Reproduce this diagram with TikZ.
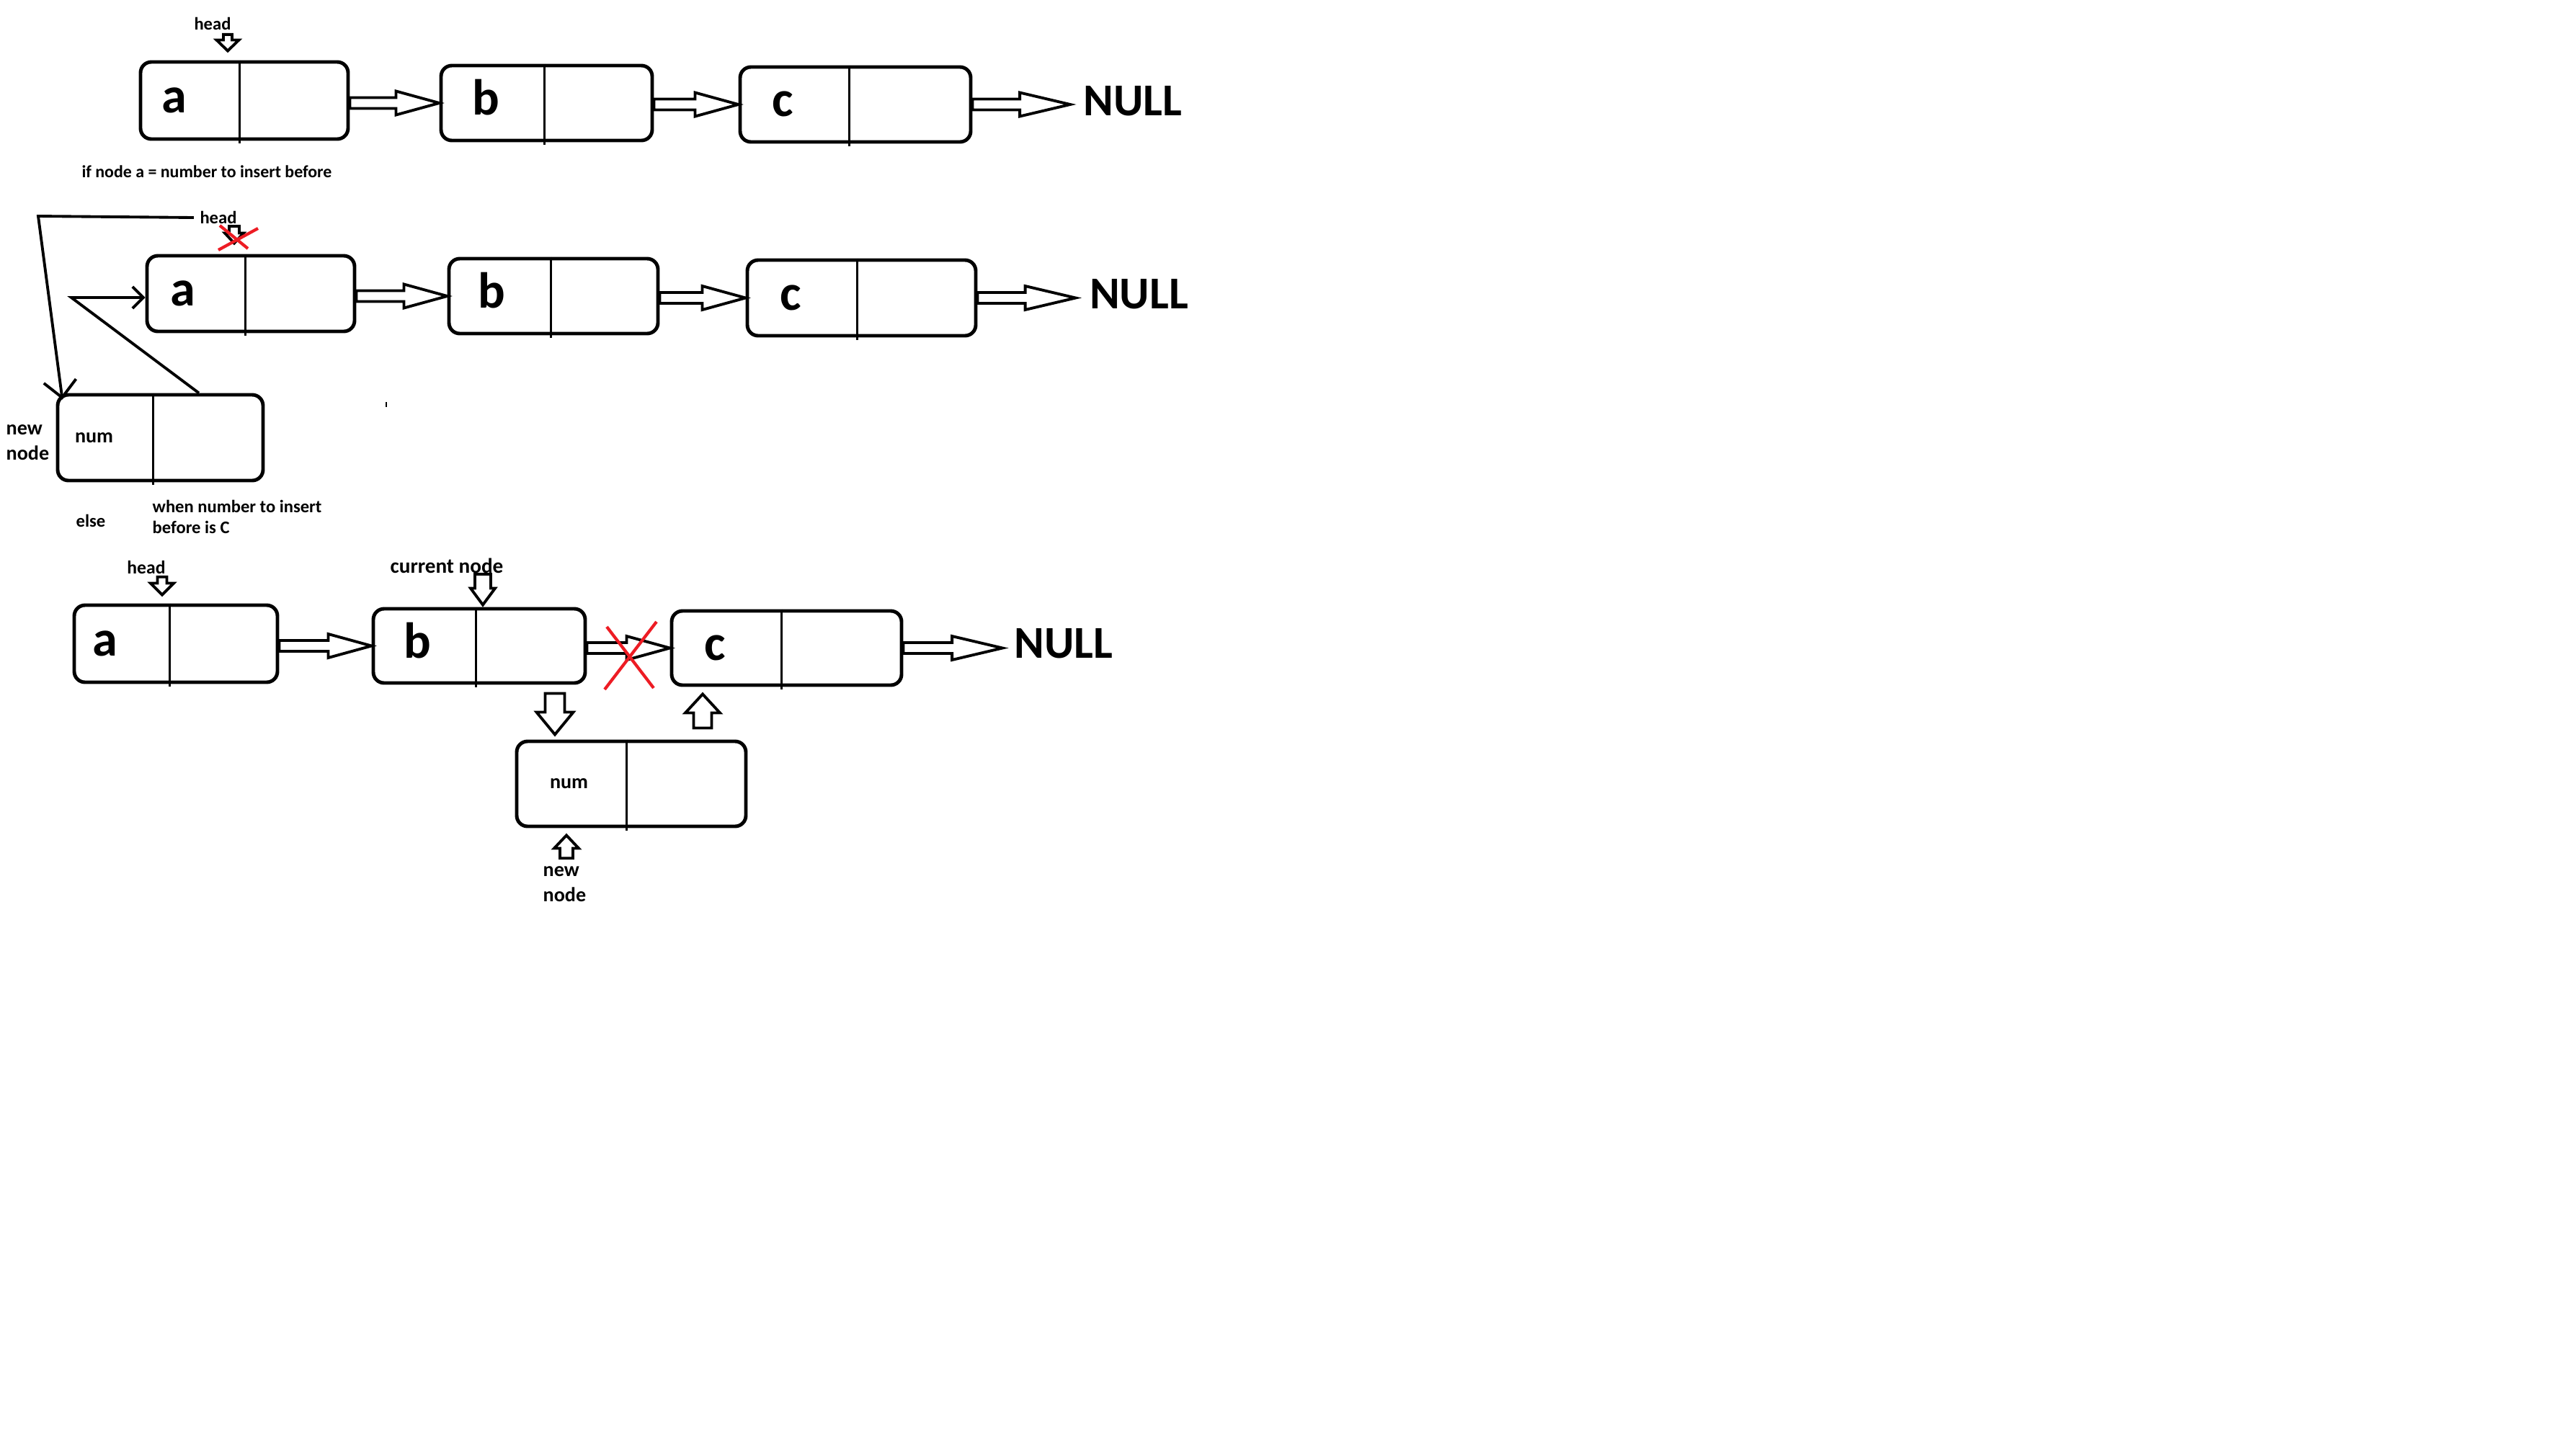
\documentclass[tikz,border=0pt]{standalone}
\usepackage{fontspec}
\setmainfont{Carlito}
\usetikzlibrary{calc, arrows.meta}

\definecolor{paintred}{RGB}{237,28,36}

% one list cell: name, x, y, width, height, divider offset, label offset, label, label style
\newcommand{\listcell}[9]{%
  \node[cell, minimum width=#4cm, minimum height=#5cm] (#1) at (#2,#3) {};
  \draw[divider] ([xshift=#6cm]#1.north west) -- ([xshift=#6cm, yshift=-0.04cm]#1.south west);
  \node[#9] (#1val) at ([xshift=#7cm]#1.west) {#8};
}

\begin{document}
\begin{tikzpicture}

\tikzset{cell/.style = {draw, rounded corners=0.15cm, line width=1.4pt}}
\tikzset{divider/.style = {line width=1.1pt}}
\tikzset{valbig/.style = {inner sep=0pt, anchor=base, yshift=-4.7pt, font=\bfseries\fontsize{20}{24}\selectfont}}
\tikzset{valsmall/.style = {inner sep=0pt, anchor=base, yshift=-1.9pt, font=\bfseries\fontsize{8}{10}\selectfont}}
\tikzset{side/.style = {inner sep=0pt, align=left, anchor=west, font=\bfseries\fontsize{8}{10}\selectfont}}
\tikzset{note/.style = {inner sep=0pt, font=\bfseries\fontsize{7}{8.3}\selectfont}}
\tikzset{nul/.style = {inner sep=0pt, font=\bfseries\fontsize{18}{22}\selectfont}}
\tikzset{wire/.style = {line width=1.1pt}}
\tikzset{cross/.style = {draw=paintred, line width=1.2pt}}
\tikzset{fat/.style n args = {5}{draw, line width=1.1pt, line join=miter, to path={
  ($(\tikztostart)!#4!(\tikztotarget)$) coordinate (fs)
  ($(\tikztotarget)!#5!(\tikztostart)$) coordinate (ft)
  ($(ft)!#3!(fs)$) coordinate (fh)
  ($(fs)!#1!90:(ft)$) -- ($(fh)!#1!90:(ft)$) -- ($(fh)!#2!90:(ft)$) -- (ft)
  -- ($(fh)!#2!-90:(ft)$) -- ($(fh)!#1!-90:(ft)$) -- ($(fs)!#1!-90:(ft)$) -- cycle}}}
\tikzset{link/.style = {fat={0.075cm}{0.165cm}{0.6cm}{0cm}{0cm}}}
\tikzset{nulllink/.style = {fat={0.075cm}{0.165cm}{0.7cm}{0cm}{#1}}}

\useasboundingbox (0,0) rectangle (35.44,-20.20);

%row 1
\listcell{a1}{3.39}{-1.395}{2.88}{1.07}{1.40}{0.49}{a}{valbig}
\listcell{b1}{7.585}{-1.43}{2.93}{1.04}{1.46}{0.65}{b}{valbig}
\listcell{c1}{11.87}{-1.45}{3.20}{1.04}{1.54}{0.62}{c}{valbig}
\node[nul] (null1) at (15.72,-1.40) {NULL};
\node[note] (head1) at (2.95,-0.33) {head};
\node[note, font=\bfseries\fontsize{6.8}{8}\selectfont] (if1) at (2.87,-2.38) {if node a = number to insert before};
\coordinate (pin1) at (3.16,0);

\draw[link] (a1.east |- b1.west) to (b1.west);
\draw[link] (b1.east |- c1.west) to (c1.west);
\draw[nulllink=0.18cm] (c1.east) to (c1.east -| null1.west);
\draw[fat={0.06cm}{0.155cm}{0.15cm}{0.055cm}{0.13cm}] (head1.south -| pin1) to (a1.north -| pin1);

%row 2
\listcell{a2}{3.48}{-4.075}{2.88}{1.05}{1.39}{0.52}{a}{valbig}
\listcell{b2}{7.68}{-4.11}{2.90}{1.04}{1.44}{0.62}{b}{valbig}
\listcell{c2}{11.955}{-4.135}{3.17}{1.05}{1.55}{0.63}{c}{valbig}
\listcell{n2}{2.225}{-6.075}{2.85}{1.19}{1.35}{0.53}{num}{valsmall}
\node[nul] (null2) at (15.805,-4.08) {NULL};
\node[note] (head2) at (3.03,-3.02) {head};
\node[side] (new2) at (0.08,-6.145) {new\\node};
\node[note] (else2) at (1.26,-7.23) {else};
\node[note, align=left, anchor=west] (when2) at (2.11,-7.175) {when number to insert\\before is C};
\coordinate (pin2) at (3.25,0);
\coordinate (bend1) at (0.53,-3.00);
\coordinate (bend2) at (0.99,-4.13);

\draw[link] (a2.east |- b2.west) to (b2.west);
\draw[link] (b2.east |- c2.west) to (c2.west);
\draw[nulllink=0.19cm] (c2.east) to (c2.east -| null2.west);
\draw[fat={0.07cm}{0.13cm}{0.14cm}{0.025cm}{0.15cm}] (head2.south -| pin2) to (a2.north -| pin2);
\draw[wire, -{Straight Barb[length=0.23cm, width=0.45cm]}] ([xshift=-0.08cm]head2.west) -- (bend1) -- ([shift={(0.09,-0.09)}]n2.north west);
\draw[wire, -{Straight Barb[length=0.15cm, width=0.3cm]}] ([xshift=0.535cm]n2.north) -- (bend2) -- (bend2 -| a2.west);
\draw[cross] (3.03,-3.47) -- (3.58,-3.17);
\draw[cross] (3.05,-3.13) -- (3.44,-3.45);
\draw[line width=0.8pt] (5.36,-5.58) -- (5.36,-5.65);

%row 3
\listcell{a3}{2.44}{-8.935}{2.82}{1.07}{1.35}{0.45}{a}{valbig}
\listcell{b3}{6.65}{-8.965}{2.94}{1.03}{1.45}{0.64}{b}{valbig}
\listcell{c3}{10.915}{-8.995}{3.19}{1.03}{1.55}{0.63}{c}{valbig}
\listcell{n3}{8.76}{-10.88}{3.18}{1.18}{1.55}{0.75}{num}{valsmall}
\node[nul] (null3) at (14.76,-8.93) {NULL};
\node[note, font=\bfseries\fontsize{7.3}{9}\selectfont] (head3) at (2.03,-7.88) {head};
\node[note, font=\bfseries\fontsize{8.3}{10}\selectfont] (cur3) at (6.20,-7.85) {current node};
\node[side] (new3) at (7.53,-12.275) {new\\node};
\coordinate (pin3) at (2.25,0);
\coordinate (pin4) at (6.70,0);
\coordinate (pin5) at (7.70,0);
\coordinate (pin6) at (9.75,0);
\coordinate (pin7) at (7.86,0);

\draw[link] (a3.east |- b3.west) to (b3.west);
\draw[link] (b3.east |- c3.west) to (c3.west);
\draw[nulllink=0.16cm] (c3.east) to (c3.east -| null3.west);
\draw[fat={0.065cm}{0.16cm}{0.16cm}{0.03cm}{0.12cm}] (head3.south -| pin3) to (a3.north -| pin3);
\draw[fat={0.11cm}{0.17cm}{0.23cm}{0.01cm}{0.03cm}] (cur3.south -| pin4) to (b3.north -| pin4);
\draw[fat={0.135cm}{0.255cm}{0.31cm}{0.12cm}{0.07cm}] (b3.south -| pin5) to (n3.north -| pin5);
\draw[fat={0.125cm}{0.24cm}{0.26cm}{0.16cm}{0.10cm}] (n3.north -| pin6) to (c3.south -| pin6);
\draw[fat={0.09cm}{0.17cm}{0.18cm}{0.11cm}{0.10cm}] (new3.north -| pin7) to (n3.south -| pin7);
\draw[cross] (8.42,-8.70) -- (9.07,-9.55);
\draw[cross] (9.11,-8.63) -- (8.39,-9.57);

\end{tikzpicture}
\end{document}
